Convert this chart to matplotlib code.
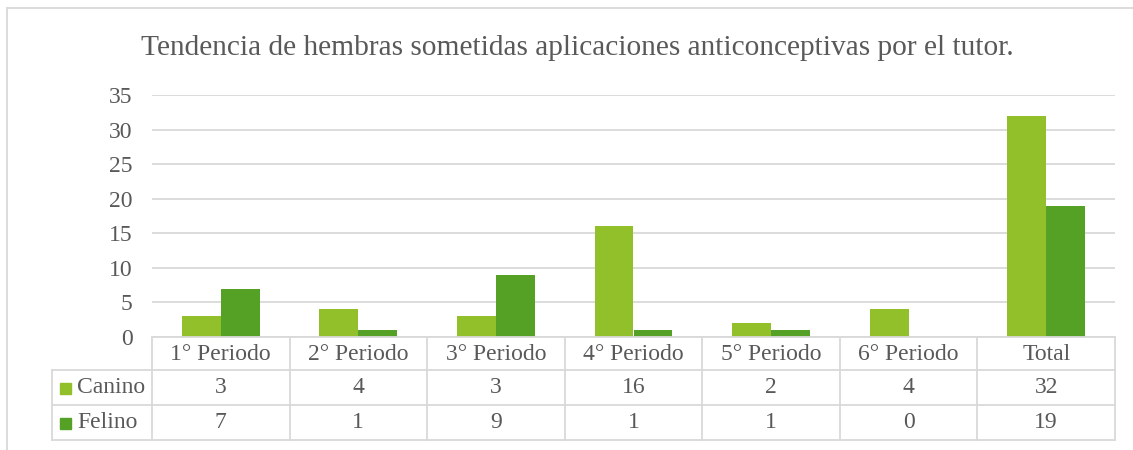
import numpy as np
import matplotlib.pyplot as plt
from matplotlib.patches import Rectangle
from matplotlib.lines import Line2D

# data
categories = ['1° Periodo', '2° Periodo', '3° Periodo', '4° Periodo',
              '5° Periodo', '6° Periodo', 'Total']
canino = [3, 4, 3, 16, 2, 4, 32]
felino = [7, 1, 9, 1, 1, 0, 19]
series_names = ['Canino', 'Felino']
title = 'Tendencia de hembras sometidas aplicaciones anticonceptivas por el tutor.'

# style
c_can = '#92C02A'
c_fel = '#55A125'
c_txt = '#595959'
c_grid = '#D9D9D9'
plt.rcParams['font.family'] = 'Liberation Serif'
plt.rcParams['font.size'] = 17

W, H = 1133, 450
fig = plt.figure(figsize=(W / 100, H / 100), dpi=100)

# pixel helpers (origin top-left)
def fx(px):
    return px / W

def fy(py):
    return 1 - py / H

x_left, x_right = 152, 1115
y_top, y_zero = 95, 337
ax = fig.add_axes([fx(x_left), fy(y_zero), fx(x_right - x_left), (y_zero - y_top) / H])

n = len(categories)
x = np.arange(n)
bw = 0.283
ax.bar(x - bw / 2, canino, width=bw, color=c_can, zorder=3)
ax.bar(x + bw / 2, felino, width=bw, color=c_fel, zorder=3)
ax.set_xlim(-0.5, n - 0.5)
ax.set_ylim(0, 35)
ax.set_yticks(range(0, 36, 5))
ax.set_xticks([])
ax.yaxis.grid(True, color=c_grid, lw=1.3, zorder=0)
ax.tick_params(axis='y', length=0, pad=14, colors=c_txt, labelsize=17)
for s in ax.spines.values():
    s.set_visible(False)

# title
fig.text(fx(577), fy(48), title, ha='center', va='center', color=c_txt, fontsize=21.2)

# outer chart frame (top and left edges visible)
fig.add_artist(Line2D([fx(7), 1], [fy(8), fy(8)], color=c_grid, lw=1.3))
fig.add_artist(Line2D([fx(7), fx(7)], [fy(8), 0], color=c_grid, lw=1.3))

# data table
col_w = (x_right - x_left) / n
rows_y = [337, 370, 405, 440]
lc = '#D9D9D9'
lw = 1.3
leg_left = 52
# horizontal lines
fig.add_artist(Line2D([fx(x_left), fx(x_right)], [fy(rows_y[0])] * 2, color=lc, lw=lw))
for yy in rows_y[1:]:
    fig.add_artist(Line2D([fx(leg_left), fx(x_right)], [fy(yy)] * 2, color=lc, lw=lw))
# vertical lines
fig.add_artist(Line2D([fx(leg_left)] * 2, [fy(rows_y[1]), fy(rows_y[3])], color=lc, lw=lw))
for i in range(n + 1):
    xx = x_left + i * col_w
    fig.add_artist(Line2D([fx(xx)] * 2, [fy(rows_y[0]), fy(rows_y[3])], color=lc, lw=lw))

# header row
for i, cat in enumerate(categories):
    fig.text(fx(x_left + (i + 0.5) * col_w), fy((rows_y[0] + rows_y[1]) / 2 + 1), cat,
             ha='center', va='center', color=c_txt)
# value rows
for r, (name, vals, col) in enumerate(zip(series_names, [canino, felino], [c_can, c_fel])):
    yc = (rows_y[r + 1] + rows_y[r + 2]) / 2
    fig.add_artist(Rectangle((fx(60), fy(yc + 6)), fx(11), 11 / H, color=col))
    fig.text(fx(77), fy(yc), name, ha='left', va='center', color=c_txt)
    for i, v in enumerate(vals):
        fig.text(fx(x_left + (i + 0.5) * col_w), fy(yc), str(v),
                 ha='center', va='center', color=c_txt)

fig.savefig('out.png', dpi=100)
